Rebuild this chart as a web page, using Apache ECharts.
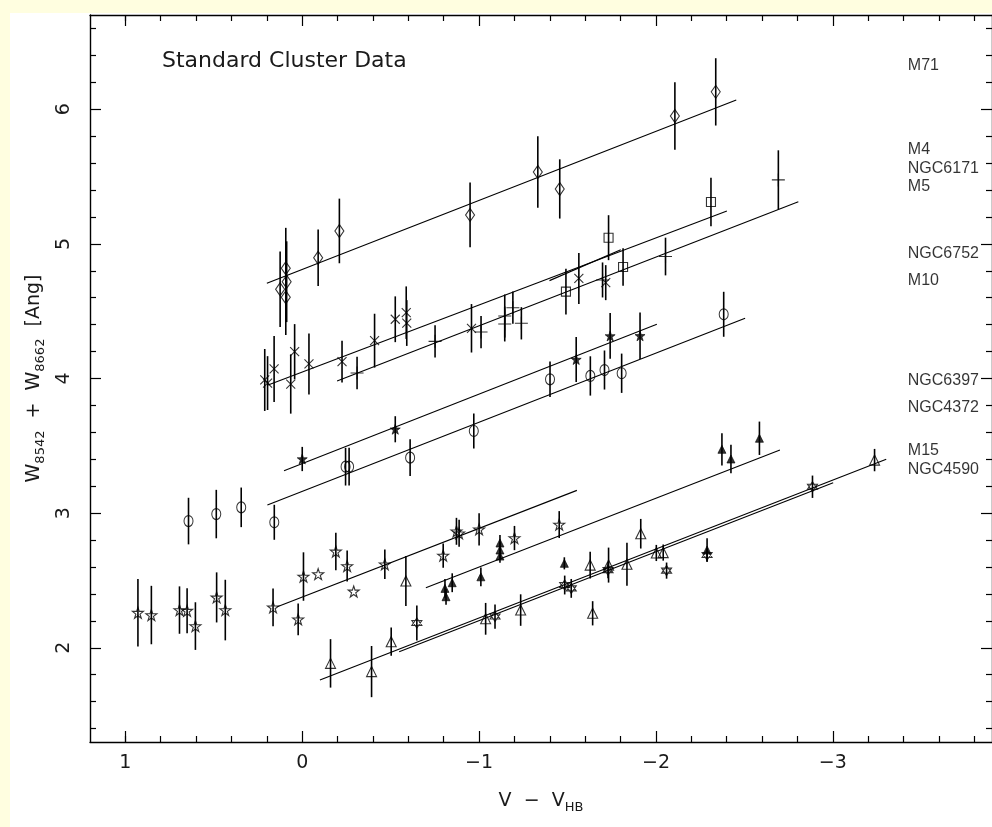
<!DOCTYPE html>
<html>
<head>
<meta charset="utf-8">
<style>
html, body { margin: 0; padding: 0; background: #fffee0; }
#chart { width: 992px; height: 827px; }
</style>
<script src="https://cdn.jsdelivr.net/npm/echarts@6/dist/echarts.min.js"></script>
</head>
<body>
<div id="chart"></div>
<script>
// every point is [V - V_HB, W8542 + W8662, half error bar]
const m71Pts = [[0.125,4.663,0.28],[0.093,4.819,0.30],[0.088,4.719,0.30],[0.093,4.603,0.28],[-0.09,4.897,0.21],[-0.21,5.096,0.24],[-0.949,5.215,0.24],[-1.332,5.534,0.265],[-1.456,5.408,0.22],[-2.107,5.95,0.25],[-2.338,6.129,0.25]];
const crossPts = [[0.212,3.989,0.23],[0.196,3.966,0.2],[0.159,4.071,0.245],[0.043,4.199,0.205],[0.065,3.959,0.22],[-0.038,4.108,0.227],[-0.225,4.125,0.155],[-0.409,4.281,0.2],[-0.526,4.44,0.17],[-0.588,4.489,0.195],[-0.591,4.412,0.17],[-0.957,4.373,0.18],[-1.564,4.743,0.19],[-1.716,4.712,0.13]];
const squarePts = [[-1.491,4.645,0.17],[-1.732,5.046,0.167],[-1.814,4.828,0.14],[-2.311,5.311,0.18]];
const plusPts = [[-0.31,4.041,0.12],[-0.751,4.276,0.12],[-1.011,4.345,0.12],[-1.145,4.464,0.16],[-1.145,4.405,0.13],[-1.191,4.526,0.12],[-1.239,4.41,0.12],[-1.698,4.732,0.13],[-2.054,4.906,0.14],[-2.692,5.475,0.22]];
const starFillPts = [[0,3.402,0.09],[-0.526,3.623,0.097],[-1.549,4.141,0.167],[-1.741,4.316,0.17],[-1.91,4.317,0.173]];
const circlePts = [[0.643,2.941,0.173],[0.486,2.993,0.18],[0.345,3.043,0.147],[0.158,2.932,0.13],[-0.245,3.345,0.14],[-0.265,3.345,0.14],[-0.61,3.412,0.136],[-0.97,3.61,0.13],[-1.401,3.994,0.132],[-1.629,4.019,0.146],[-1.709,4.063,0.145],[-1.806,4.039,0.146],[-2.383,4.477,0.167]];
const starOpenPts = [[0.929,2.26,0.25],[0.853,2.243,0.217],[0.694,2.28,0.176],[0.651,2.275,0.167],[0.604,2.161,0.177],[0.484,2.374,0.186],[0.435,2.28,0.225],[0.165,2.3,0.14],[0.023,2.211,0.118],[-0.007,2.529,0.18],[-0.09,2.547,0],[-0.19,2.715,0.14],[-0.254,2.607,0.115],[-0.291,2.418,0],[-0.467,2.62,0.11],[-0.797,2.685,0.09],[-0.872,2.865,0.1],[-0.887,2.85,0.1],[-1.0,2.88,0.12],[-1.2,2.815,0.09],[-1.453,2.915,0.1]];
const triFillPts = [[-1.118,2.778,0.06],[-1.118,2.726,0.06],[-1.118,2.681,0.05],[-0.807,2.441,0.07],[-0.813,2.379,0.06],[-0.848,2.483,0.07],[-1.01,2.527,0.07],[-1.482,2.627,0.045],[-2.289,2.726,0.087],[-2.373,3.474,0.12],[-2.424,3.402,0.105],[-2.585,3.556,0.124]];
const triOpenPts = [[-0.16,1.884,0.18],[-0.392,1.823,0.19],[-0.503,2.045,0.105],[-0.586,2.496,0.186],[-1.037,2.215,0.118],[-1.235,2.28,0.117],[-1.628,2.614,0.1],[-1.642,2.256,0.09],[-1.732,2.614,0.13],[-1.836,2.62,0.16],[-1.914,2.847,0.11],[-2.002,2.704,0.06],[-2.041,2.707,0.06],[-3.236,3.394,0.083]];
const hexPts = [[-0.648,2.184,0.13],[-1.09,2.232,0.09],[-1.484,2.466,0.07],[-1.521,2.441,0.07],[-1.729,2.577,0.06],[-2.06,2.573,0.06],[-2.289,2.689,0.05],[-2.885,3.196,0.083]];

// fitted lines, two end points each
const fitM71 = [[0.2,4.707],[-2.454,6.069]];
const fitCross = [[0.193,3.952],[-2.401,5.244]];
const fitSquare = [[-1.398,4.727],[-1.801,4.957]];
const fitPlus = [[-0.197,3.981],[-2.805,5.313]];
const fitStarFill = [[0.103,3.315],[-2.005,4.403]];
const fitCircle = [[0.197,3.06],[-2.504,4.447]];
const fitStarOpen = [[0.141,2.305],[-1.553,3.169]];
const fitTriFill = [[-0.699,2.446],[-2.701,3.469]];
const fitTriOpen = [[-0.1,1.76],[-3.302,3.4]];
const fitHex = [[-0.548,1.97],[-3.002,3.226]];

const clusterNames = ['M71','M4','NGC6171','M5','NGC6752','M10','NGC6397','NGC4372','M15','NGC4590'];
const clusterY = [6.324,5.698,5.562,5.425,4.93,4.727,3.984,3.786,3.464,3.32];
const clusterX = -3.424;

const xMajor = [1, 0, -1, -2, -3];
const xMinor = [1.0,0.8,0.6,0.4,0.2,-0.2,-0.4,-0.6,-0.8,-1.2,-1.4,-1.6,-1.8,-2.2,-2.4,-2.6,-2.8,-3.2,-3.4,-3.6,-3.8];
const yMajor = [2, 3, 4, 5, 6];
const yMinor = [1.4,1.6,1.8,2.2,2.4,2.6,2.8,3.2,3.4,3.6,3.8,4.2,4.4,4.6,4.8,5.2,5.4,5.6,5.8,6.2,6.4,6.6];

const FONT = 'DejaVu Sans';
const INK = '#1a1a1a';

const chart = echarts.init(document.getElementById('chart'));

function xAxisOf(pos, ticks, len, labels, line) {
  return {
    type: 'value', position: pos, min: -3.9, max: 1.2, inverse: true,
    axisLine: { show: line, onZero: false, lineStyle: { color: '#000', width: 1.4 } },
    axisTick: { show: true, inside: true, length: len, customValues: ticks, lineStyle: { color: '#000', width: 1.2 } },
    axisLabel: labels ? {
      show: true, customValues: ticks, margin: 12, fontFamily: FONT, fontSize: 19, color: INK,
      formatter: (v) => String(v).replace('-', '\u2212')
    } : { show: false },
    splitLine: { show: false }
  };
}
function yAxisOf(pos, ticks, len, labels, line) {
  return {
    type: 'value', position: pos, min: 1.3, max: 6.7,
    axisLine: { show: line, onZero: false, lineStyle: { color: '#000', width: 1.4 } },
    axisTick: { show: true, inside: true, length: len, customValues: ticks, lineStyle: { color: '#000', width: 1.2 } },
    axisLabel: labels ? {
      show: true, customValues: ticks, rotate: 90, margin: 16, fontFamily: FONT, fontSize: 19, color: INK
    } : { show: false },
    splitLine: { show: false }
  };
}

const xAxes = [
  xAxisOf('bottom', xMajor, 11, true, true),
  xAxisOf('bottom', xMinor, 6, false, false),
  xAxisOf('top', xMajor, 11, false, true),
  xAxisOf('top', xMinor, 6, false, false)
];
xAxes[0].name = '{m|V  \u2212  V}{s|HB}';
xAxes[0].nameLocation = 'middle';
xAxes[0].nameGap = 46;
xAxes[0].nameTextStyle = {
  rich: {
    m: { fontFamily: FONT, fontSize: 19, color: INK, lineHeight: 26, verticalAlign: 'middle' },
    s: { fontFamily: FONT, fontSize: 13, color: INK, lineHeight: 10, verticalAlign: 'bottom' }
  }
};

const yAxes = [
  yAxisOf('left', yMajor, 11, true, true),
  yAxisOf('left', yMinor, 6, false, false),
  yAxisOf('right', yMajor, 11, false, true),
  yAxisOf('right', yMinor, 6, false, false)
];
yAxes[0].name = '{m|W}{s|8542}{m|  +  W}{s|8662}{m|  [Ang]}';
yAxes[0].nameLocation = 'middle';
yAxes[0].nameGap = 40;
yAxes[0].nameTextStyle = {
  rich: {
    m: { fontFamily: FONT, fontSize: 19, color: INK, lineHeight: 26, verticalAlign: 'middle' },
    s: { fontFamily: FONT, fontSize: 13, color: INK, lineHeight: 10, verticalAlign: 'bottom' }
  }
};

const allPts = [].concat(m71Pts, crossPts, squarePts, plusPts, starFillPts, circlePts,
  starOpenPts, triFillPts, triOpenPts, hexPts);

const STAR = 'path://M5,0L6.2,3.6L10,3.6L6.9,5.9L8.1,9.5L5,7.3L1.9,9.5L3.1,5.9L0,3.6L3.8,3.6Z';
const HEX = 'path://M5,0L9.33,7.5L0.67,7.5ZM5,10L0.67,2.5L9.33,2.5Z';
const CROSS = 'path://M0,0L10,10M10,0L0,10';
const PLUS = 'path://M0,5L10,5M5,0L5,10';

function marks(data, symbol, size, filled) {
  return {
    type: 'scatter', data: data, symbol: symbol, symbolSize: size, z: 4,
    itemStyle: filled
      ? { color: '#000', borderColor: '#000', borderWidth: 0.8 }
      : { color: 'rgba(0,0,0,0)', borderColor: '#000', borderWidth: 1.1 }
  };
}
function fit(data) {
  return { type: 'line', data: data, symbol: 'none', z: 3,
    lineStyle: { color: '#000', width: 1.1 } };
}

const option = {
  animation: false,
  backgroundColor: 'transparent',
  grid: { left: 90, top: 15, width: 906, height: 727 },
  title: {
    text: 'Standard Cluster Data', left: 162, top: 50, padding: 0,
    textStyle: { fontFamily: FONT, fontSize: 22, fontWeight: 'normal', color: INK }
  },
  graphic: [{
    type: 'rect', left: 10, top: 13, z: -100,
    shape: { width: 990, height: 820 }, style: { fill: '#ffffff' }
  }],
  xAxis: xAxes,
  yAxis: yAxes,
  series: [
    {
      type: 'custom', data: allPts, encode: { x: 0, y: 1 }, z: 3,
      renderItem: function (params, api) {
        const x = api.value(0), y = api.value(1), e = api.value(2);
        const a = api.coord([x, y - e]);
        const b = api.coord([x, y + e]);
        return { type: 'line', shape: { x1: a[0], y1: a[1], x2: b[0], y2: b[1] },
          style: { stroke: '#000', lineWidth: 1.6 } };
      }
    },
    fit(fitM71), fit(fitCross), fit(fitSquare), fit(fitPlus), fit(fitStarFill),
    fit(fitCircle), fit(fitStarOpen), fit(fitTriFill), fit(fitTriOpen), fit(fitHex),
    marks(m71Pts, 'diamond', [9, 13], false),
    marks(crossPts, CROSS, 9, false),
    marks(squarePts, 'rect', 9, false),
    marks(plusPts, PLUS, 13, false),
    marks(starFillPts, STAR, 10, true),
    marks(circlePts, 'circle', [9, 11], false),
    marks(starOpenPts, STAR, 11, false),
    marks(triFillPts, 'triangle', 8, true),
    marks(triOpenPts, 'triangle', 10, false),
    marks(hexPts, HEX, 10, false),
    {
      type: 'scatter', symbolSize: 0, z: 5,
      data: clusterNames.map((n, i) => ({ name: n, value: [clusterX, clusterY[i]] })),
      label: { show: true, position: 'right', distance: 0, formatter: '{b}',
        fontFamily: 'Liberation Sans', fontSize: 16, color: '#000' }
    }
  ]
};
chart.setOption(option);
</script>
</body>
</html>
